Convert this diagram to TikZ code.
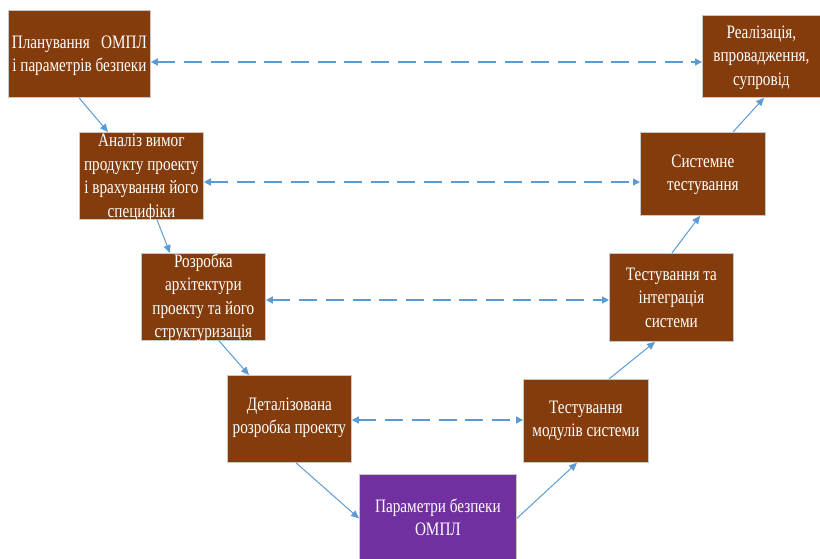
\documentclass[tikz,border=0pt]{standalone}
\usepackage{fontspec}
\setmainfont{Liberation Serif}
\usetikzlibrary{arrows.meta,calc}
\definecolor{brownbox}{HTML}{843C0C}
\definecolor{purplebox}{HTML}{7030A0}
\definecolor{arrblue}{HTML}{5B9BD5}
\definecolor{boxedge}{HTML}{C8C8C8}
\tikzset{
  box/.style={draw=boxedge, line width=0.8pt, fill=brownbox, anchor=north west, inner sep=0pt},
  pbox/.style={box, fill=purplebox},
  txt/.style={text=white, align=center, font=\fontsize{19}{23.5}\selectfont, inner sep=0pt, xscale=0.8, transform shape},
  arr/.style={draw=arrblue, line width=1pt, -{Triangle[length=8pt,width=7pt]}},
  darr/.style={draw=arrblue, line width=1.4pt, dash pattern=on 18pt off 8.7pt, {Triangle[length=7pt,width=7pt]}-{Triangle[length=7pt,width=7pt]}}
}
\begin{document}
\begin{tikzpicture}[x=1pt,y=-1pt]
\useasboundingbox (0,0) rectangle (820,559);
\begin{scope}
\clip (0,0) rectangle (820,559);
\node[box, minimum width=142pt, minimum height=87pt] (p1) at (8,10) {};
\node[box, minimum width=124pt, minimum height=87pt] (p2) at (79,132) {};
\node[box, minimum width=124pt, minimum height=87pt] (p3) at (141,253) {};
\node[box, minimum width=124pt, minimum height=87pt] (p4) at (227,375) {};
\node[pbox, minimum width=157pt, minimum height=88pt] (p5) at (359,474) {};
\node[box, minimum width=125pt, minimum height=83pt] (p6) at (523,379) {};
\node[box, minimum width=124pt, minimum height=88pt] (p7) at (609,253) {};
\node[box, minimum width=125pt, minimum height=83pt] (p8) at (640,132) {};
\node[box, minimum width=118pt, minimum height=82pt] (p9) at (702,15) {};
\end{scope}

\node[txt] (t1) at ($(p1.center)+(0,2)$) {Планування\ \ \ ОМПЛ\\і параметрів безпеки};
\node[txt] (t2) at ($(p2.center)+(0,2)$) {Аналіз вимог\\продукту проекту\\і врахування його\\специфіки};
\node[txt] (t3) at ($(p3.center)+(0,1)$) {Розробка\\архітектури\\проекту та його\\структуризація};
\node[txt] (t4) at ($(p4.center)+(0,-1)$) {Деталізована\\розробка проекту};
\node[txt] (t5) at ($(p5.center)+(0,-1)$) {Параметри безпеки\\ОМПЛ};
\node[txt] (t6) at ($(p6.center)+(0,0)$) {Тестування\\модулів системи};
\node[txt] (t7) at ($(p7.center)+(0,0)$) {Тестування та\\інтеграція\\системи};
\node[txt] (t8) at ($(p8.center)+(0,1)$) {Системне\\тестування};
\node[txt] (t9) at ($(p9.center)+(0,1)$) {Реалізація,\\впровадження,\\супровід};

% solid flow arrows
\draw[arr] ($(p1.south west)+(71,0)$) -- ($(p2.north west)+(29,0)$);
\draw[arr] ($(p2.south west)+(78,0)$) -- ($(p3.north west)+(29,0)$);
\draw[arr] ($(p3.south west)+(78,0)$) -- ($(p4.north west)+(22,0)$);
\draw[arr] ($(p4.south west)+(69,0)$) -- (p5.west);
\draw[arr] (p5.east) -- ($(p6.south west)+(54,0)$);
\draw[arr] ($(p6.north west)+(86,0)$) -- ($(p7.south west)+(46,0)$);
\draw[arr] ($(p7.north west)+(63,0)$) -- ($(p8.south west)+(60,0)$);
\draw[arr] ($(p8.north west)+(93,0)$) -- ($(p9.south west)+(62,0)$);

% dashed correspondences
\draw[darr] ($(p1.north east)+(0,52)$) -- ($(p9.north west)+(0,47)$);
\draw[darr] ($(p2.north east)+(0,50)$) -- ($(p8.north west)+(0,50)$);
\draw[darr] ($(p3.north east)+(0,47)$) -- ($(p7.north west)+(0,47)$);
\draw[darr] ($(p4.north east)+(0,45)$) -- ($(p6.north west)+(0,41)$);
\end{tikzpicture}
\end{document}
